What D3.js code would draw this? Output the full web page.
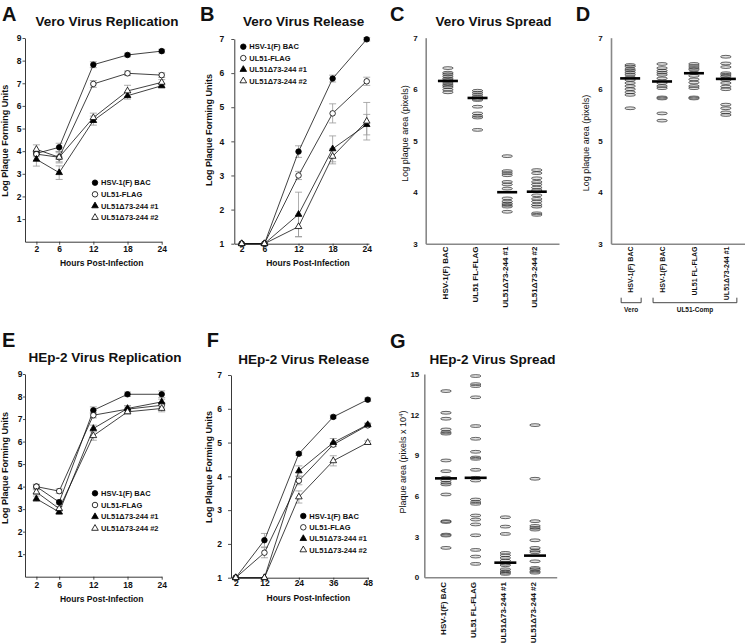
<!DOCTYPE html>
<html><head><meta charset="utf-8">
<script src="https://cdn.jsdelivr.net/npm/d3@7"></script>
<style>
body{margin:0;background:#fff;}
svg{display:block;}
</style></head><body>
<svg id="fig" width="745" height="643"></svg>
<script>
// ---------------- DATA ----------------
const seriesNames = ["HSV-1(F) BAC", "UL51-FLAG", "UL51\u039473-244 #1", "UL51\u039473-244 #2"];

// A: Vero virus replication
const veroHours = [2, 6, 12, 18, 24];
const veroRepBAC  = [3.90, 4.17, 7.82, 8.25, 8.42];
const veroRepFLAG = [3.87, 3.73, 6.97, 7.44, 7.36];
const veroRepD1   = [3.64, 3.05, 5.35, 6.45, 6.89];
const veroRepD2   = [4.08, 3.73, 5.48, 6.66, 7.04];
const veroRepErrBAC  = [0.10, 0.18, 0.13, 0.08, 0.08];
const veroRepErrFLAG = [0.12, 0.20, 0.15, 0.10, 0.10];
const veroRepErrD1   = [0.30, 0.30, 0.20, 0.15, 0.10];
const veroRepErrD2   = [0.20, 0.25, 0.20, 0.25, 0.12];

// B: Vero virus release
const veroRelBAC  = [1, 1, 3.70, 5.84, 6.99];
const veroRelFLAG = [1, 1, 3.00, 4.82, 5.76];
const veroRelD1   = [1, 1, 1.86, 3.78, 4.49];
const veroRelD2   = [1, 1, 1.50, 3.56, 4.59];
const veroRelErrBAC  = [0, 0, 0.17, 0.10, 0.05];
const veroRelErrFLAG = [0, 0, 0.12, 0.28, 0.12];
const veroRelErrD1   = [0, 0, 0.65, 0.38, 0.30];
const veroRelErrD2   = [0, 0, 0.30, 0.22, 0.55];

// E: HEp-2 virus replication
const hepRepBAC  = [4.00, 3.31, 7.39, 8.10, 8.10];
const hepRepFLAG = [4.00, 3.80, 7.17, 7.44, 7.61];
const hepRepD1   = [3.46, 2.87, 6.58, 7.47, 7.76];
const hepRepD2   = [3.76, 3.02, 6.26, 7.32, 7.47];
const hepRepErrBAC  = [0.10, 0.10, 0.15, 0.10, 0.15];
const hepRepErrFLAG = [0.10, 0.10, 0.12, 0.15, 0.12];
const hepRepErrD1   = [0.12, 0.10, 0.15, 0.12, 0.12];
const hepRepErrD2   = [0.10, 0.10, 0.20, 0.10, 0.15];

// F: HEp-2 virus release
const hepRelHours = [2, 12, 24, 36, 48];
const hepRelBAC  = [1, 2.11, 4.67, 5.76, 6.27];
const hepRelFLAG = [1, 1.74, 3.87, 4.94, 5.51];
const hepRelD1   = [1, 1, 4.16, 5.00, 5.53];
const hepRelD2   = [1, 1, 3.39, 4.46, 5.00];
const hepRelErrBAC  = [0, 0.20, 0.05, 0.05, 0.05];
const hepRelErrFLAG = [0, 0.15, 0.12, 0.05, 0.05];
const hepRelErrD1   = [0, 0, 0.15, 0.12, 0.05];
const hepRelErrD2   = [0, 0, 0.18, 0.15, 0.05];

// Tick labels
const repYTicks = [1, 2, 3, 4, 5, 6, 7, 8, 9];
const relYTicks = [1, 2, 3, 4, 5, 6, 7];
const spreadLogTicks = [3, 4, 5, 6, 7];
const spreadAreaTicks = [0, 3, 6, 9, 12, 15];

// C: Vero virus spread (log plaque area)
const spreadCats = ["HSV-1(F) BAC", "UL51 FL-FLAG", "UL51\u039473-244 #1", "UL51\u039473-244 #2"];
const veroSpreadBAC  = [6.41, 6.32, 6.29, 6.25, 6.21, 6.18, 6.14, 6.10, 6.07, 6.04, 5.99, 5.94];
const veroSpreadFLAG = [5.97, 5.93, 5.89, 5.85, 5.81, 5.79, 5.66, 5.53, 5.48, 5.45, 5.21];
const veroSpreadD1   = [4.70, 4.41, 4.37, 4.33, 4.20, 4.15, 4.07, 3.88, 3.82, 3.78, 3.75, 3.72, 3.62];
const veroSpreadD2   = [4.43, 4.37, 4.27, 4.20, 4.15, 4.09, 4.04, 3.94, 3.87, 3.82, 3.76, 3.72, 3.59, 3.56];
const veroSpreadMeans = [6.16, 5.83, 4.00, 4.01];

// D: complementing cells
const compCats = ["HSV-1(F) BAC", "HSV-1(F) BAC", "UL51 FL-FLAG", "UL51\u039473-244 #1"];
const compVeroBAC = [6.47, 6.44, 6.39, 6.36, 6.32, 6.28, 6.23, 6.18, 6.12, 6.06, 6.00, 5.94, 5.89, 5.63];
const compBAC     = [6.49, 6.41, 6.36, 6.32, 6.28, 6.21, 6.12, 6.06, 6.02, 5.84, 5.82, 5.53, 5.39];
const compFLAG    = [6.49, 6.45, 6.41, 6.38, 6.32, 6.26, 6.19, 6.13, 6.06, 6.02, 5.84, 5.82];
const compD1      = [6.63, 6.50, 6.43, 6.31, 6.28, 6.25, 6.21, 6.18, 6.12, 6.05, 6.00, 5.70, 5.63, 5.55, 5.50];
const compMeans = [6.21, 6.15, 6.31, 6.20];
const compGroups = ["Vero", "UL51-Comp"];
const compGroupSpans = [[0, 0], [1, 3]];

// G: HEp-2 virus spread (plaque area x 10^4 pixels)
const hepSpreadBAC  = [13.74, 12.14, 11.70, 10.91, 10.70, 10.60, 8.62, 7.83, 7.35, 7.14, 6.97, 6.85, 6.11, 4.14, 4.08, 3.15, 3.08, 2.17];
const hepSpreadFLAG = [14.85, 14.25, 14.11, 13.28, 11.16, 10.22, 9.26, 8.84, 8.74, 7.93, 7.34, 7.14, 5.74, 5.55, 5.42, 4.56, 4.26, 3.90, 3.10, 2.02, 1.53, 0.99];
const hepSpreadD1   = [4.43, 3.74, 3.20, 1.80, 1.62, 1.43, 1.23, 1.00, 0.89, 0.59, 0.44, 0.34, 0.25];
const hepSpreadD2   = [11.23, 7.27, 4.14, 3.79, 3.64, 3.52, 2.73, 2.17, 1.97, 1.85, 1.18, 0.69, 0.59, 0.44, 0.34];
const hepSpreadMeans = [7.30, 7.34, 1.08, 1.60];

// ---------------- DRAWING ----------------
const FONT = '"Liberation Sans", Arial, Helvetica, sans-serif';
const svg = d3.select("#fig");
const intFmt = d3.format("d");

function text(x, y, s, size, weight, anchor) {
  return svg.append("text").attr("x", x).attr("y", y).text(s)
    .attr("font-family", FONT).attr("font-size", size)
    .attr("font-weight", weight).attr("text-anchor", anchor || "start").attr("fill", "#111");
}
function vtext(x, y, s, size, weight, anchor) {
  return svg.append("text").attr("transform", `translate(${x},${y}) rotate(-90)`).text(s)
    .attr("font-family", FONT).attr("font-size", size)
    .attr("font-weight", weight).attr("text-anchor", anchor || "middle").attr("fill", "#111");
}

const markerStyles = [
  { type: d3.symbolCircle, size: 24, fill: "#000" },
  { type: d3.symbolCircle, size: 24, fill: "#fff" },
  { type: d3.symbolTriangle, size: 19, fill: "#000" },
  { type: d3.symbolTriangle, size: 19, fill: "#fff" }
];
function marker(g, k, cx, cy) {
  const m = markerStyles[k];
  g.append("path").attr("d", d3.symbol().type(m.type).size(m.size)())
    .attr("transform", `translate(${cx},${cy})`)
    .attr("fill", m.fill).attr("stroke", "#000").attr("stroke-width", 0.8);
}

function drawLinePanel(p) {
  const g = svg.append("g");
  const x = d3.scaleLinear().domain(p.xDomain).range(p.xRange);
  const y = d3.scaleLinear().domain(p.yDomain).range(p.yRange);
  const yAx = g.append("g").attr("transform", `translate(${p.xRange[0]},0)`)
    .call(d3.axisLeft(y).tickValues(p.yTicks).tickFormat(intFmt).tickSize(p.yTick).tickPadding(p.yPad).tickSizeOuter(0));
  const xAx = g.append("g").attr("transform", `translate(0,${p.yRange[0]})`)
    .call(d3.axisBottom(x).tickValues(p.hours).tickFormat(intFmt).tickSize(p.xTick).tickPadding(p.xPad).tickSizeOuter(0));
  [yAx, xAx].forEach(a => {
    a.select(".domain").attr("stroke", "#222").attr("stroke-width", 0.9);
    a.selectAll(".tick line").attr("stroke", "#222").attr("stroke-width", 0.8);
    a.selectAll(".tick text").attr("font-family", FONT).attr("font-size", 8.5)
      .attr("font-weight", "bold").attr("fill", "#111");
  });
  // error bars
  p.series.forEach(s => {
    s.vals.forEach((v, i) => {
      const e = s.errs[i];
      if (!e) return;
      const cx = x(p.hours[i]);
      const y0 = y(v - e), y1 = y(v + e);
      g.append("line").attr("x1", cx).attr("x2", cx).attr("y1", y0).attr("y2", y1)
        .attr("stroke", "#999").attr("stroke-width", 0.8);
      [y0, y1].forEach(yy => g.append("line").attr("x1", cx - 3.5).attr("x2", cx + 3.5)
        .attr("y1", yy).attr("y2", yy).attr("stroke", "#999").attr("stroke-width", 0.8));
    });
  });
  const line = d3.line().x((d, i) => x(p.hours[i])).y(d => y(d));
  p.series.forEach(s => g.append("path").attr("d", line(s.vals))
    .attr("fill", "none").attr("stroke", "#111").attr("stroke-width", 0.8));
  p.series.forEach((s, k) => s.vals.forEach((v, i) => marker(g, k, x(p.hours[i]), y(v))));
  // legend
  seriesNames.forEach((n, k) => {
    const ly = p.legend.y + k * p.legend.step;
    marker(g, k, p.legend.x, ly);
    text(p.legend.x + 6, ly + 2.7, n, 7.5, "bold");
  });
  text(p.letter.x, p.letter.y, p.letter.t, 20, "bold");
  text(p.title.x, p.title.y, p.title.t, 13.5, "bold", "middle");
  vtext(p.yTitle.x, p.yTitle.y, "Log  Plaque Forming Units", 9, "bold");
  text(p.xTitle.x, p.xTitle.y, "Hours Post-Infection", 8.5, "bold", "middle");
}

function drawScatterPanel(p) {
  const g = svg.append("g");
  const x = d3.scalePoint().domain(d3.range(p.labels.length)).range(p.xRange).padding(p.pad);
  const y = d3.scaleLinear().domain(p.yDomain).range(p.yRange);
  const yAx = g.append("g").attr("transform", `translate(${p.xRange[0]},0)`)
    .call(d3.axisLeft(y).tickValues(p.yTicks).tickFormat(intFmt).tickSize(0).tickPadding(p.yPad).tickSizeOuter(0));
  const xAx = g.append("g").attr("transform", `translate(0,${p.yRange[0]})`)
    .call(d3.axisBottom(x).tickValues([]).tickSizeOuter(0));
  [yAx, xAx].forEach(a => {
    a.select(".domain").attr("stroke", "#888").attr("stroke-width", 1.6);
    a.selectAll(".tick text").attr("font-family", FONT).attr("font-size", 8)
      .attr("font-weight", "bold").attr("fill", "#111");
  });
  p.values.forEach((vals, i) => {
    vals.forEach(v => g.append("ellipse").attr("cx", x(i)).attr("cy", y(v))
      .attr("rx", 5.3).attr("ry", 1.4)
      .attr("fill", "#aaa").attr("fill-opacity", 0.35)
      .attr("stroke", "#1a1a1a").attr("stroke-opacity", 0.72).attr("stroke-width", 0.9));
  });
  p.means.forEach((m, i) => g.append("line")
    .attr("x1", x(i) - p.barHalf).attr("x2", x(i) + p.barHalf)
    .attr("y1", y(m)).attr("y2", y(m)).attr("stroke", "#000").attr("stroke-width", 2.6));
  p.labels.forEach((l, i) => vtext(x(i) + p.labelDx, p.labelY, l, p.labelSize, "bold", "end"));
  text(p.letter.x, p.letter.y, p.letter.t, 20, "bold");
  text(p.title.x, p.title.y, p.title.t, 13.5, "bold", "middle");
  return x;
}

const seriesSet = (a, b, c, d, ea, eb, ec, ed) => [
  { vals: a, errs: ea }, { vals: b, errs: eb }, { vals: c, errs: ec }, { vals: d, errs: ed }
];

// A
drawLinePanel({
  xDomain: [0, 24], xRange: [25, 161.7], yDomain: [0, 9], yRange: [241.7, 38],
  hours: veroHours, yTicks: repYTicks, yTick: 2.5, yPad: 1, xTick: 3, xPad: 1.5,
  series: seriesSet(veroRepBAC, veroRepFLAG, veroRepD1, veroRepD2, veroRepErrBAC, veroRepErrFLAG, veroRepErrD1, veroRepErrD2),
  legend: { x: 95, y: 182.7, step: 11.6 },
  letter: { x: 2, y: 20.5, t: "A" },
  title: { x: 107, y: 26, t: "Vero Virus Replication" },
  yTitle: { x: 7.5, y: 140.8 }, xTitle: { x: 101.7, y: 266 }
});
// B
drawLinePanel({
  xDomain: [0.7, 24.4], xRange: [234.3, 369], yDomain: [1, 7], yRange: [243.7, 39],
  hours: veroHours, yTicks: relYTicks, yTick: 3, yPad: 7, xTick: 2, xPad: 0.5,
  series: seriesSet(veroRelBAC, veroRelFLAG, veroRelD1, veroRelD2, veroRelErrBAC, veroRelErrFLAG, veroRelErrD1, veroRelErrD2),
  legend: { x: 243.3, y: 46.7, step: 11.4 },
  letter: { x: 200, y: 20.7, t: "B" },
  title: { x: 303.7, y: 26, t: "Vero Virus Release" },
  yTitle: { x: 212, y: 130 }, xTitle: { x: 308, y: 266 }
});
// E
drawLinePanel({
  xDomain: [0, 24], xRange: [25, 161.7], yDomain: [0, 9], yRange: [576.7, 374],
  hours: veroHours, yTicks: repYTicks, yTick: 2, yPad: 0.5, xTick: 3, xPad: 2,
  series: seriesSet(hepRepBAC, hepRepFLAG, hepRepD1, hepRepD2, hepRepErrBAC, hepRepErrFLAG, hepRepErrD1, hepRepErrD2),
  legend: { x: 95, y: 493.3, step: 11.7 },
  letter: { x: 2, y: 347, t: "E" },
  title: { x: 105, y: 362, t: "HEp-2 Virus Replication" },
  yTitle: { x: 7.5, y: 468 }, xTitle: { x: 101.7, y: 602 }
});
// F
drawLinePanel({
  xDomain: [0.35, 48.2], xRange: [231, 368.3], yDomain: [1, 7], yRange: [577.7, 375],
  hours: hepRelHours, yTicks: relYTicks, yTick: 3, yPad: 6, xTick: 2, xPad: 0.5,
  series: seriesSet(hepRelBAC, hepRelFLAG, hepRelD1, hepRelD2, hepRelErrBAC, hepRelErrFLAG, hepRelErrD1, hepRelErrD2),
  legend: { x: 303.3, y: 516, step: 11.3 },
  letter: { x: 206.7, y: 346.5, t: "F" },
  title: { x: 303.8, y: 364, t: "HEp-2 Virus Release" },
  yTitle: { x: 212, y: 467 }, xTitle: { x: 308.3, y: 601 }
});

// C
drawScatterPanel({
  labels: spreadCats, xRange: [425.7, 559], pad: 0.75,
  yDomain: [3, 7], yRange: [243.7, 37.7], yTicks: spreadLogTicks, yPad: 8,
  values: [veroSpreadBAC, veroSpreadFLAG, veroSpreadD1, veroSpreadD2], means: veroSpreadMeans,
  barHalf: 10, labelDx: 0.5, labelY: 246.5, labelSize: 8,
  letter: { x: 390, y: 20.7, t: "C" }, title: { x: 493.5, y: 26, t: "Vero Virus Spread" }
});
vtext(408, 133.5, "Log plaque area (pixels)", 9, "normal");

// D
const xD = drawScatterPanel({
  labels: compCats, xRange: [611, 745], pad: 0.6,
  yDomain: [3, 7], yRange: [243.7, 37.7], yTicks: spreadLogTicks, yPad: 8.3,
  values: [compVeroBAC, compBAC, compFLAG, compD1], means: compMeans,
  barHalf: 10, labelDx: 3, labelY: 246.5, labelSize: 7,
  letter: { x: 575.7, y: 20.7, t: "D" }, title: { x: 0, y: 0, t: "" }
});
vtext(588.5, 143, "Log plaque area (pixels)", 9, "normal");
compGroups.forEach((gname, i) => {
  const x0 = xD(compGroupSpans[i][0]) - 9, x1 = xD(compGroupSpans[i][1]) + 11;
  svg.append("path").attr("d", `M${x0},297.7V302.7H${x1}V297.7`)
    .attr("fill", "none").attr("stroke", "#333").attr("stroke-width", 0.9);
  text((x0 + x1) / 2, 312, gname, 6.5, "bold", "middle");
});

// G
drawScatterPanel({
  labels: spreadCats, xRange: [424.3, 556.7], pad: 0.73,
  yDomain: [0, 15], yRange: [577.3, 374], yTicks: spreadAreaTicks, yPad: 5,
  values: [hepSpreadBAC, hepSpreadFLAG, hepSpreadD1, hepSpreadD2], means: hepSpreadMeans,
  barHalf: 11, labelDx: 0.5, labelY: 582, labelSize: 8,
  letter: { x: 390, y: 348, t: "G" }, title: { x: 492.5, y: 364, t: "HEp-2 Virus Spread" }
});
const gt = vtext(406, 462, "Plaque area (pixels x 10", 9, "normal");
gt.append("tspan").text("4").attr("font-size", 6).attr("baseline-shift", "super");
gt.append("tspan").text(")");
</script>
</body></html>
